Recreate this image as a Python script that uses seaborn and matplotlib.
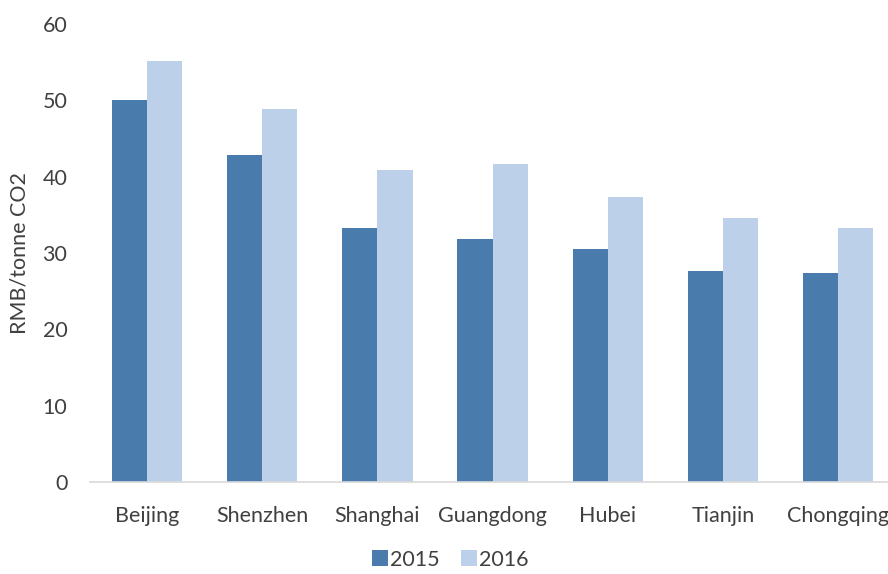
import matplotlib
matplotlib.use("Agg")
import matplotlib.pyplot as plt
from matplotlib.patches import Patch
import seaborn as sns
import pandas as pd

cities = ["Beijing", "Shenzhen", "Shanghai", "Guangdong", "Hubei", "Tianjin", "Chongqing"]
price_2015 = [50.0, 42.8, 33.3, 31.8, 30.6, 27.6, 27.4]
price_2016 = [55.2, 48.9, 40.9, 41.7, 37.4, 34.6, 33.3]
years = ["2015", "2016"]
colors = {"2015": "#4a7bad", "2016": "#bcd0e9"}
y_ticks = [0, 10, 20, 30, 40, 50, 60]

df = pd.DataFrame({
    "City": cities * 2,
    "Year": [years[0]] * len(cities) + [years[1]] * len(cities),
    "Price": price_2015 + price_2016,
})

sns.set_theme(style="white")
plt.rcParams["font.family"] = ["Lato", "DejaVu Sans"]

FS = 15.5
TXT = "#404040"

fig = plt.figure(figsize=(8.88, 5.74), dpi=100)
ax = fig.add_axes([0.1008, 0.160, 0.9077, 0.798])

sns.barplot(data=df, x="City", y="Price", hue="Year", order=cities,
            hue_order=years, palette=colors, width=0.61, saturation=1,
            legend=False, ax=ax, linewidth=0)

ax.set_ylim(0, 60)
ax.set_yticks(y_ticks)
ax.set_xlim(-0.5, len(cities) - 0.5)
for s in ["top", "right", "left"]:
    ax.spines[s].set_visible(False)
ax.spines["bottom"].set_color("#d9d9d9")
ax.spines["bottom"].set_linewidth(1.2)
ax.tick_params(axis="both", length=0, labelsize=FS, colors=TXT)
ax.tick_params(axis="x", pad=17)
ax.tick_params(axis="y", pad=16)
ax.set_xlabel("")
ax.set_ylabel("RMB/tonne CO2", fontsize=FS, color=TXT)
ax.yaxis.set_label_coords(-0.074, 0.5)

handles = [Patch(facecolor=colors[y], edgecolor="none", label=y) for y in years]
fig.legend(handles=handles, loc="lower center", bbox_to_anchor=(0.507, -0.026),
           ncol=2, frameon=False, fontsize=FS, handlelength=0.75,
           handleheight=0.75, handletextpad=0.1, columnspacing=1.0,
           labelcolor=TXT)

fig.savefig("out.png", dpi=100)
